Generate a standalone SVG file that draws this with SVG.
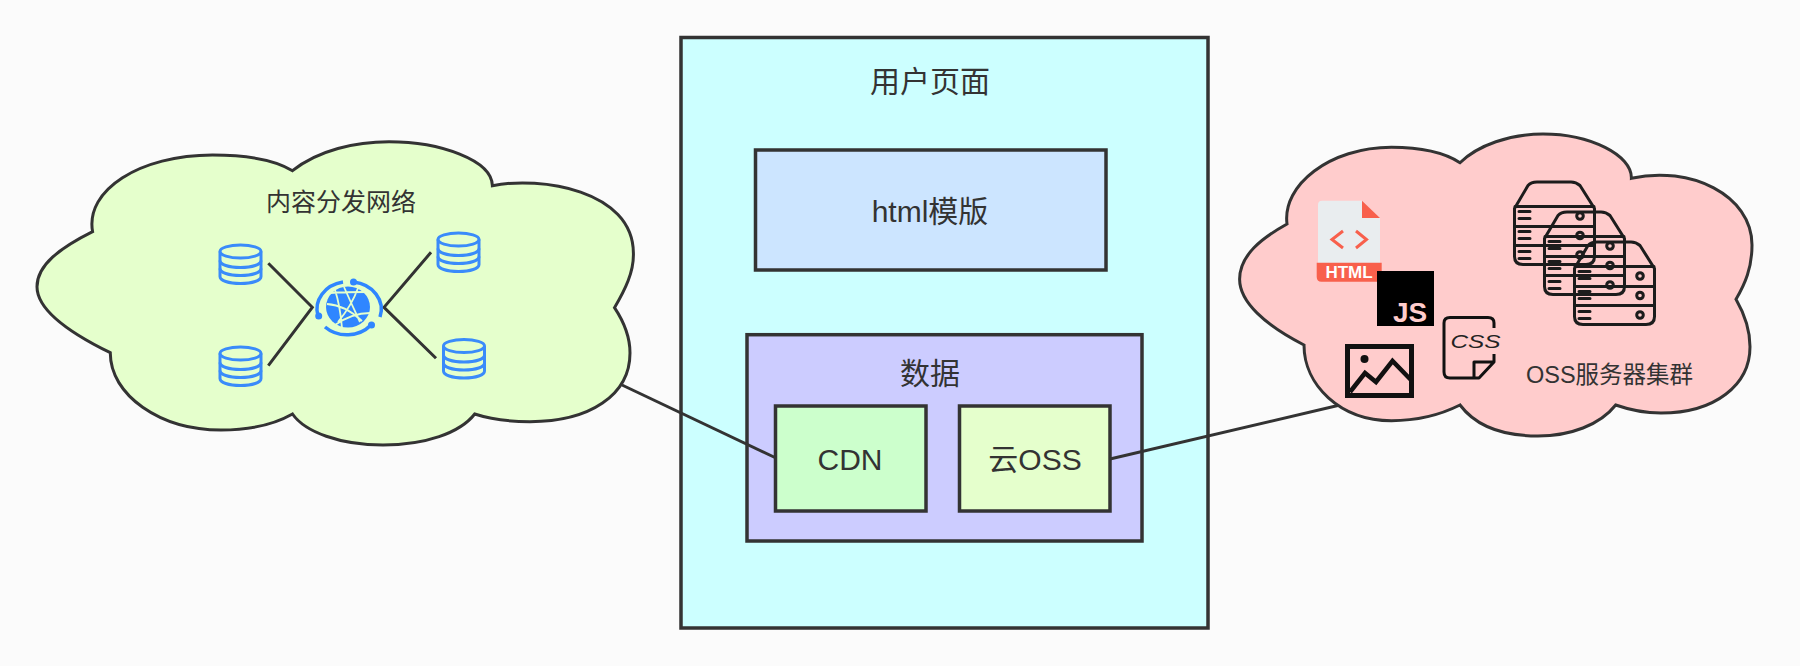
<svg xmlns="http://www.w3.org/2000/svg" width="1800" height="666" viewBox="0 0 1800 666">
<style>
.box{stroke:#333;stroke-width:3.5}
.cloud{stroke:#333;stroke-width:3;stroke-linejoin:miter}
.t{font-family:"Liberation Sans","Noto Sans CJK SC",sans-serif;fill:#333;text-anchor:middle;dominant-baseline:central;font-size:30px}
.conn{fill:none;stroke:#333;stroke-width:3}
.db{fill:none;stroke:#3a8bfa;stroke-width:3}
.srv{fill:none;stroke:#1c1c1c;stroke-width:3;stroke-linejoin:round;stroke-linecap:round}
</style>
<defs>
<g id="dbIcon" class="db">
<ellipse cx="22" cy="8" rx="20.5" ry="6.5"/>
<path d="M1.5 8V33C1.5 37 10 40 22 40S42.5 37 42.5 33V8"/>
<path d="M1.5 17C1.5 21 10 24 22 24S42.5 21 42.5 17"/>
<path d="M1.5 25C1.5 29 10 32 22 32S42.5 29 42.5 25"/>
</g>
<g id="srvIcon" class="srv">
<path d="M1.5 28L15 5Q18 1.500 24 1.500H58Q63 1.500 67 5L81.500 28V76Q81.500 84 73 84H10Q1.500 84 1.500 76Z"/>
<path d="M2 26H81M2 46H81M2 65H81"/>
<path d="M6 31H17M6 38H17M6 51H17M6 58H17M6 71H17M6 78H17"/>
<circle cx="67" cy="35.500" r="3.300"/>
<circle cx="67" cy="55" r="3.300"/>
<circle cx="67" cy="74.500" r="3.300"/>
</g>
</defs>
<rect width="1800" height="666" fill="#fbfbfb"/>
<g id="page">
<rect class="box" x="681" y="37.500" width="527" height="590.500" fill="#ccffff"/>
<text class="t" x="930" y="81">用户页面</text>
</g>
<g id="html-template">
<rect class="box" x="755.500" y="150" width="350.500" height="120" fill="#cce5ff"/>
<text class="t" x="930" y="211">html模版</text>
</g>
<g id="data">
<rect class="box" x="747" y="334.700" width="395" height="206.300" fill="#ccccff"/>
<text class="t" x="930" y="373">数据</text>
</g>
<g id="cdn">
<rect class="box" x="775.500" y="406" width="150.500" height="105" fill="#ccffcc"/>
<text class="t" x="850" y="459.500">CDN</text>
</g>
<g id="oss">
<rect class="box" x="959.500" y="406" width="150.500" height="105" fill="#e5ffcc"/>
<text class="t" x="1035" y="459.500">云OSS</text>
</g>
<g id="connectors">
<path class="conn" d="M622 385L776 458"/>
<path class="conn" d="M1110 459L1340 405"/>
</g>
<g id="cdn-cloud">
<path class="cloud" fill="#e5ffcc" d="M292.500 170.700C318 150 356 141.700 389 141.700C440 141.700 492 160 492.400 185.700C540 176 633 190 633.400 253C634 272 625 290 614.500 307.700C624 322 630 338 630 353C630 395 590 421.700 530 421.700C510 421.700 490 419 474.700 414C460 433 425 445 383 445C340 445 305 432 292.500 414C275 424 250 430 221 430C160 430 110 395 110.300 352.700C70 333 37 310 37 286.700C37 265 60 248 92.600 231.700C85 190 140 155 212.500 155C245 155 275 160 292.500 170.700Z"/>
<text class="t" style="font-size:25px" x="341" y="201.500">内容分发网络</text>
<use href="#dbIcon" x="218.500" y="243.500"/>
<use href="#dbIcon" x="218.500" y="345.500"/>
<use href="#dbIcon" x="436.500" y="231.500"/>
<use href="#dbIcon" x="442" y="338"/>
<path class="conn" d="M268.300 263.300L312.300 307.300L268.300 365.700"/>
<path class="conn" d="M431 252.300L384 307.300L436 358.300"/>
<g id="globe">
<path d="M343 282A31.500 27.500 0 0 0 318 316M353.500 282A31.500 27.500 0 0 1 380 317M325 327A31.500 27.500 0 0 0 371 325" fill="none" stroke="#2f86ff" stroke-width="3.500"/>
<circle cx="318.700" cy="316" r="3.500" fill="#2f86ff"/>
<circle cx="353.500" cy="282" r="3.500" fill="#2f86ff"/>
<circle cx="371.500" cy="325" r="3.500" fill="#2f86ff"/>
<ellipse cx="348" cy="307" rx="22" ry="20.500" fill="#2f86ff"/>
<path d="M330 293Q345 292 367 292M327 304Q345 305 362 321M335 290Q340 305 342 328M358 288Q352 305 338 322M370 313Q352 313 335 325M344 287Q352 305 360 322" fill="none" stroke="#e5ffcc" stroke-width="1.800"/>
</g>
</g>
<g id="oss-cloud">
<path class="cloud" fill="#ffcccc" d="M1460 162.700C1478 145 1510 134 1543 134C1590 134 1632 155 1631.400 178.300C1690 165 1752 195 1752 245C1752 268 1745 284 1736 299.300C1745 315 1750 330 1750 346.700C1750 385 1715 413 1661 413C1645 413 1630 410 1615.700 405C1600 425 1570 436 1538 436C1500 436 1475 425 1460 405C1440 415 1415 420.700 1391.400 420.700C1340 420.700 1304 385 1304 345C1265 325 1239.600 302 1239.600 279.300C1239.600 255 1262 238 1287 224C1282 185 1330 147.300 1391.400 147.300C1420 147.300 1445 153 1460 162.700Z"/>
<g id="html-icon">
<path d="M1322 200.700H1362L1380 218V263H1318V204.700Q1318 200.700 1322 200.700Z" fill="#e9edef"/>
<path d="M1362 200.700L1380 218H1362Z" fill="#f8604c"/>
<path d="M1316.700 262.700H1381.700V277Q1381.700 281.700 1377 281.700H1321.500Q1316.700 281.700 1316.700 277Z" fill="#f8604c"/>
<path d="M1343 231L1332 239.500L1343 248M1356 231L1366.500 239.500L1356 248" fill="none" stroke="#f8604c" stroke-width="3"/>
<text x="1349" y="272.500" style="font-family:'Liberation Sans',sans-serif;font-weight:700;font-size:17px;fill:#fff;text-anchor:middle;dominant-baseline:central">HTML</text>
</g>
<g id="js-icon">
<rect x="1377" y="271" width="57" height="55" fill="#000"/>
<text x="1410" y="322" style="font-family:'Liberation Sans',sans-serif;font-weight:700;font-size:28px;fill:#ffcccc;text-anchor:middle">JS</text>
</g>
<g id="css-icon">
<path d="M1494 328V323Q1494 317.500 1488 317.500H1450Q1444 317.500 1444 323V372Q1444 378 1450 378H1479L1494 362V354M1474 378V362H1494" fill="none" stroke="#111" stroke-width="3" stroke-linejoin="round"/>
<text x="1475.500" y="341.500" textLength="50" lengthAdjust="spacingAndGlyphs" style="font-family:'Liberation Sans',sans-serif;font-style:italic;font-size:18px;fill:#222;text-anchor:middle;dominant-baseline:central">CSS</text>
</g>
<g id="image-icon">
<rect x="1347.500" y="346.500" width="64" height="49" fill="none" stroke="#111" stroke-width="5"/>
<circle cx="1364.500" cy="359" r="4" fill="#111"/>
<path d="M1350 392L1365 373L1376 382L1392.500 361L1412 381" fill="none" stroke="#111" stroke-width="4.500"/>
</g>
<g id="servers">
<use href="#srvIcon" x="1513" y="180.500"/>
<use href="#srvIcon" x="1543" y="210.500"/>
<use href="#srvIcon" x="1573" y="240.500"/>
</g>
<text class="t" style="font-size:23.500px" x="1609.500" y="375">OSS服务器集群</text>
</g>
</svg>
